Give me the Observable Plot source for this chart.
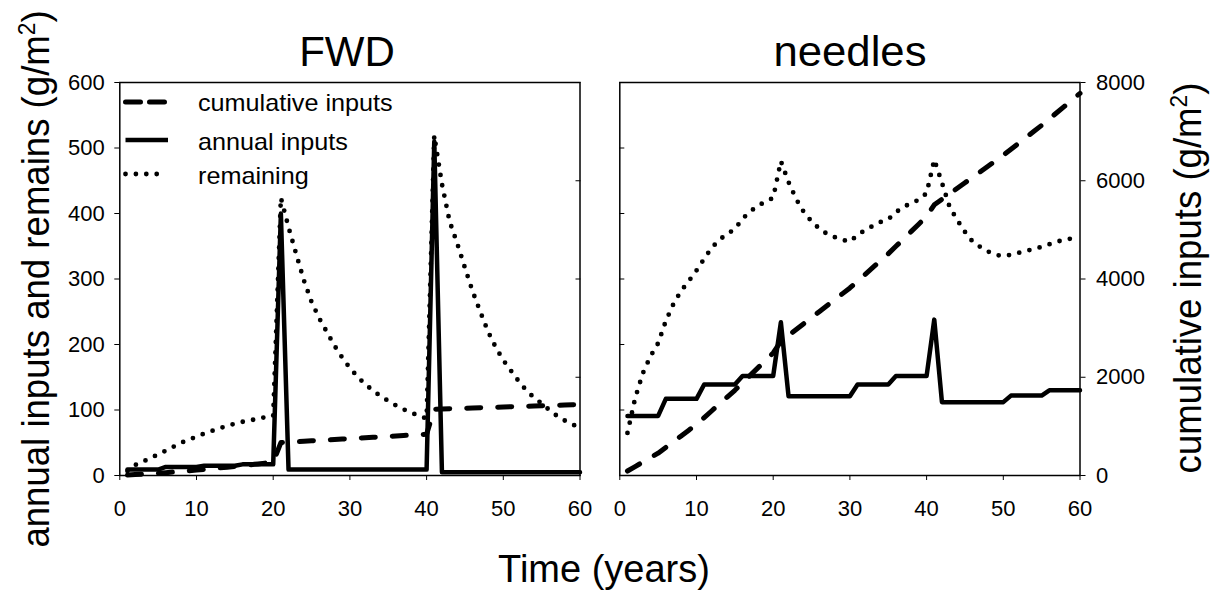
<!DOCTYPE html>
<html><head><meta charset="utf-8">
<script src="https://cdn.jsdelivr.net/npm/d3@7"></script>
<script src="https://cdn.jsdelivr.net/npm/@observablehq/plot@0.6"></script>
<style>
body{margin:0;background:#fff;}
#wrap{position:relative;width:1220px;height:601px;overflow:hidden;font-family:"Liberation Sans",Arial,sans-serif;color:#000;}
#wrap svg{position:absolute;top:0;}
.txt{position:absolute;white-space:nowrap;line-height:1;}
.sup{font-size:0.62em;position:relative;top:-0.58em;}
</style></head><body><div id="wrap"></div>
<script>
// ---- data (g/m^2) ----
const years = [1,2,3,4,5,6,7,8,9,10,11,12,13,14,15,16,17,18,19,20,21,22,23,24,25,26,27,28,29,30,31,32,33,34,35,36,37,38,39,40,41,42,43,44,45,46,47,48,49,50,51,52,53,54,55,56,57,58,59,60];

const fwdAnnual = [9,9,9,9,9,13,13,13,13,13,15,15,15,15,15,17,17,17,17,17,400,9,9,9,9,9,9,9,9,9,9,9,9,9,9,9,9,9,9,9,510,5,5,5,5,5,5,5,5,5,5,5,5,5,5,5,5,5,5,5];
const fwdRemaining = [7,16,21,27,32,38,44,50,55,59,64,68,72,76,79,82,84,87,89,91,424,379,338,298,265,240,219,198,180,164,151,139,130,121,114,107,101,96,91,87,519,445,388,354,317,281,250,220,196,176,160,144,130,119,110,100,91,84,78,73];
const fwdCumulative = [9,18,27,36,45,58,71,84,97,110,125,140,155,170,185,202,219,236,253,270,670,679,688,697,706,715,724,733,742,751,760,769,778,787,796,805,814,823,832,841,1350,1355,1360,1365,1370,1375,1380,1385,1390,1395,1400,1405,1410,1415,1420,1425,1430,1435,1440,1445];

const ndlAnnual = [91,91,91,91,91,117,117,117,117,117,139,139,139,139,139,152,152,152,152,152,234,121,121,121,121,121,121,121,121,121,139,139,139,139,139,152,152,152,152,152,238,112,112,112,112,112,112,112,112,112,122,122,122,122,122,130,130,130,130,130];
const ndlRemaining = [65,118,156,182,202,236,262,282,297,313,331,348,360,369,376,392,403,412,418,424,480,448,422,402,388,377,369,364,360,357,367,375,381,387,391,402,410,416,421,431,482,447,410,390,372,357,349,342,337,335,337,340,343,346,349,353,357,360,362,365];
const ndlCumulative = [91,182,273,364,455,572,689,806,923,1040,1179,1318,1457,1596,1735,1887,2039,2191,2343,2495,2729,2850,2971,3092,3213,3334,3455,3576,3697,3818,3957,4096,4235,4374,4513,4665,4817,4969,5121,5273,5511,5623,5735,5847,5959,6071,6183,6295,6407,6519,6641,6763,6885,7007,7129,7259,7389,7519,7649,7779];

const xTicks = [0,10,20,30,40,50,60];
const leftTicks = [0,100,200,300,400,500,600];
const rightTicks = [0,2000,4000,6000,8000];

const titles = ["FWD", "needles"];
const legendLabels = ["cumulative inputs", "annual inputs", "remaining"];
const yLabelLeft = "annual inputs and remains (g/m";
const yLabelRight = "cumulative inputs (g/m";
const xLabel = "Time (years)";

// ---- styles ----
const SOLID = {stroke:"black", strokeWidth:4.5, strokeLinejoin:"round", strokeLinecap:"round"};
const DASH = {stroke:"black", strokeWidth:5, strokeDasharray:"14,17", strokeLinecap:"round"};
const DOT = {stroke:"black", strokeWidth:4.8, strokeDasharray:"0,10.5", strokeLinecap:"round"};

const wrap = document.getElementById("wrap");
const H = 540, TOP = 82, BOTTOM = 475;
const FONT = "\"Liberation Sans\", Arial, sans-serif";

function place(svg, left){ svg.style.left = left + "px"; wrap.appendChild(svg); }

function panel(cfg){
  const W = cfg.W, L = cfg.L;
  const common = {
    width: W, height: H,
    marginLeft: cfg.frameL - L, marginRight: L + W - cfg.frameR,
    marginTop: TOP, marginBottom: H - BOTTOM,
    style: {background:"transparent", fontSize:"22px", fontFamily: FONT, overflow:"visible", color:"black"}
  };
  const main = Plot.plot({
    ...common,
    x: {domain:[0,60], ticks: xTicks, tickSize: 5, tickPadding: 20, label: null},
    y: {domain:[0,600], ticks: leftTicks, tickSize: cfg.leftLabels ? 5 : -5, tickPadding: 10,
        tickFormat: cfg.leftLabels ? (d => String(d)) : (() => ""), label: null},
    marks: [
      Plot.frame({stroke:"black", strokeWidth:1.5}),
      Plot.line(cfg.remaining, {x: years, y: cfg.remaining, ...DOT}),
      Plot.line(cfg.annual, {x: years, y: cfg.annual, ...SOLID})
    ]
  });
  place(main, L);
  const over = Plot.plot({
    ...common,
    x: {domain:[0,60], axis: null},
    y: {domain:[0,8000], ticks: rightTicks, axis:"right", tickSize: cfg.rightLabels ? 5 : -5, tickPadding: 11,
        tickFormat: cfg.rightLabels ? (d => String(d)) : (() => ""), label: null},
    marks: [
      Plot.line(cfg.cumulative, {x: years, y: cfg.cumulative, ...DASH})
    ]
  });
  over.style.pointerEvents = "none";
  place(over, L);
}

panel({L:0, W:600, frameL:119.3, frameR:579.5, annual: fwdAnnual, remaining: fwdRemaining, cumulative: fwdCumulative, leftLabels:true, rightLabels:false});
panel({L:600, W:620, frameL:619.3, frameR:1079.5, annual: ndlAnnual, remaining: ndlRemaining, cumulative: ndlCumulative, leftLabels:false, rightLabels:true});

function text(html, css){
  const d = document.createElement("div");
  d.className = "txt";
  d.innerHTML = html;
  Object.assign(d.style, css);
  wrap.appendChild(d);
  return d;
}
// titles
text(titles[0], {left:"347px", top:"31px", fontSize:"42px", transform:"translateX(-50%)"});
text(titles[1], {left:"850px", top:"31px", fontSize:"42px", transform:"translateX(-50%) scaleX(1.04)"});
// x label
text(xLabel, {left:"604px", top:"550px", fontSize:"38px", transform:"translateX(-50%)"});
// y labels (rotated)
text(yLabelLeft + '<span class="sup">2</span>)', {left:"36px", top:"279px", fontSize:"36.6px", transform:"translate(-50%,-50%) rotate(-90deg) scaleY(1.08)"});
text(yLabelRight + '<span class="sup">2</span>)', {left:"1188px", top:"278px", fontSize:"36.6px", transform:"translate(-50%,-50%) rotate(-90deg) scaleY(1.08)"});

// legend (inside FWD frame)
const legY = [102, 140, 174];
const legStyles = [DASH, SOLID, DOT];
const ns = "http://www.w3.org/2000/svg";
const lsvg = document.createElementNS(ns, "svg");
lsvg.setAttribute("width", 70); lsvg.setAttribute("height", 110);
lsvg.style.left = "119px"; lsvg.style.top = "85px"; lsvg.style.position = "absolute";
legendLabels.forEach((lab, i) => {
  const s = legStyles[i];
  const ln = document.createElementNS(ns, "line");
  ln.setAttribute("x1", 6.5); ln.setAttribute("x2", i === 1 ? 49 : 48);
  ln.setAttribute("y1", legY[i] - 85); ln.setAttribute("y2", legY[i] - 85);
  ln.setAttribute("stroke", "black");
  ln.setAttribute("stroke-width", s.strokeWidth);
  ln.setAttribute("stroke-linecap", i === 1 ? "butt" : "round");
  if (i === 0) ln.setAttribute("stroke-dasharray", "15,9");
  if (i === 2) ln.setAttribute("stroke-dasharray", "0,10.4");
  lsvg.appendChild(ln);
  const t = text(lab, {left: "198px", top: (legY[i] - 11) + "px", fontSize:"24px", transform:"scaleX(1.05)", transformOrigin:"0 0"});
  if (i > 0) t.style.top = (legY[i] - 10) + "px";
});
wrap.appendChild(lsvg);
</script>
</body></html>
